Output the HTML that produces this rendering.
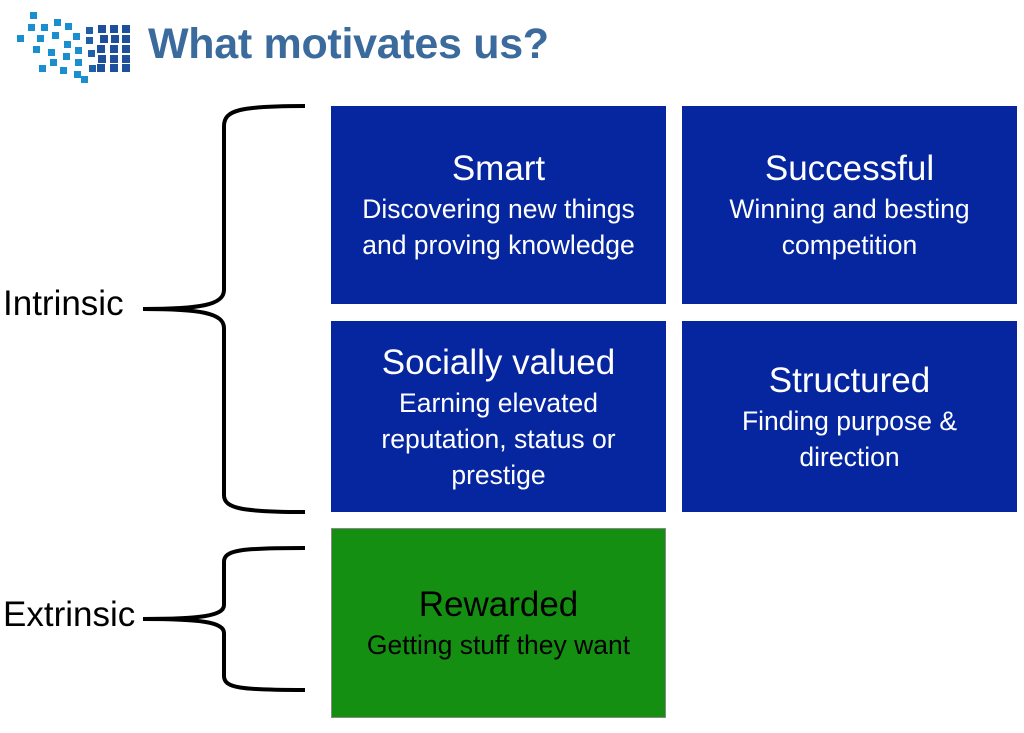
<!DOCTYPE html>
<html><head><style>
body{margin:0;width:1024px;height:733px;background:#fff;position:relative;overflow:hidden;font-family:"Liberation Sans",sans-serif}
.t{position:absolute;left:148px;top:20px;font-size:43px;font-weight:bold;color:#3b6b9c;letter-spacing:-0.3px}
.b{position:absolute;background:#0626a0;color:#fff;display:flex;flex-direction:column;justify-content:center;align-items:center;text-align:center}
.b .h{font-size:35px;line-height:44px}
.b .s{font-size:26.5px;line-height:36px}
.l{position:absolute;font-size:35px;color:#000}
</style></head><body>
<svg style="position:absolute;left:0;top:0" width="140" height="90">
<g fill="#1a8fd0">
<rect x="30" y="12" width="7" height="7"/><rect x="28" y="24" width="7" height="7"/><rect x="41" y="24" width="7" height="7"/><rect x="54" y="19" width="7" height="7"/><rect x="65" y="23" width="7" height="7"/>
<rect x="17" y="35" width="7" height="7"/><rect x="37" y="35" width="7" height="7"/><rect x="52" y="32" width="7" height="7"/><rect x="73" y="33" width="7" height="7"/>
<rect x="33" y="46" width="7" height="7"/><rect x="48" y="49" width="7" height="7"/><rect x="64" y="41" width="7" height="7"/><rect x="75" y="47" width="7" height="7"/>
<rect x="50" y="59" width="7" height="7"/><rect x="63" y="53" width="7" height="7"/><rect x="39" y="65" width="7" height="7"/><rect x="60" y="67" width="7" height="7"/><rect x="75" y="59" width="7" height="7"/><rect x="74" y="71" width="7" height="7"/><rect x="81" y="76" width="7" height="7"/>
</g>
<g fill="#1f5fa8">
<rect x="86" y="27" width="7" height="7"/><rect x="86" y="37" width="7" height="7"/><rect x="88" y="50" width="7" height="7"/><rect x="89" y="65" width="7" height="7"/>
</g>
<g fill="#1d4f9a">
<rect x="98" y="25" width="8" height="8"/><rect x="110" y="25" width="8" height="8"/><rect x="122" y="25" width="8" height="8"/>
<rect x="100" y="35" width="8" height="8"/><rect x="111" y="35" width="8" height="8"/><rect x="122" y="35" width="8" height="8"/>
<rect x="97" y="45" width="8" height="8"/><rect x="110" y="45" width="8" height="8"/><rect x="122" y="45" width="8" height="8"/>
<rect x="98" y="55" width="8" height="8"/><rect x="110" y="55" width="8" height="8"/><rect x="122" y="55" width="8" height="8"/>
<rect x="97" y="64" width="8" height="8"/><rect x="110" y="64" width="8" height="8"/><rect x="122" y="64" width="8" height="8"/>
</g>
</svg>
<div class="t">What motivates us?</div>
<svg style="position:absolute;left:0;top:0" width="330" height="733">
<g fill="none" stroke="#000" stroke-width="4">
<path d="M305 106 C240 106 224 110 224 126 L224 290 C224 305 200 309 143 309 C200 309 224 313 224 328 L224 495 C224 508 240 512 305 512"/>
<path d="M305 548 C240 548 224 550 224 562 L224 605 C224 616 200 619 143 619 C200 619 224 622 224 633 L224 676 C224 688 240 690 305 690"/>
</g>
</svg>
<div class="l" style="left:3px;top:284px">Intrinsic</div>
<div class="l" style="left:3px;top:595px">Extrinsic</div>
<div class="b" style="left:331px;top:106px;width:335px;height:198px"><div class="h">Smart</div><div class="s">Discovering new things<br>and proving knowledge</div></div>
<div class="b" style="left:682px;top:106px;width:335px;height:198px"><div class="h">Successful</div><div class="s">Winning and besting<br>competition</div></div>
<div class="b" style="left:331px;top:321px;width:335px;height:191px"><div class="h">Socially valued</div><div class="s">Earning elevated<br>reputation, status or<br>prestige</div></div>
<div class="b" style="left:682px;top:321px;width:335px;height:191px"><div class="h">Structured</div><div class="s">Finding purpose &amp;<br>direction</div></div>
<div class="b" style="left:331px;top:528px;width:333px;height:188px;background:#158f12;color:#000;border:1px solid #888"><div class="h">Rewarded</div><div class="s">Getting stuff they want</div></div>
</body></html>
